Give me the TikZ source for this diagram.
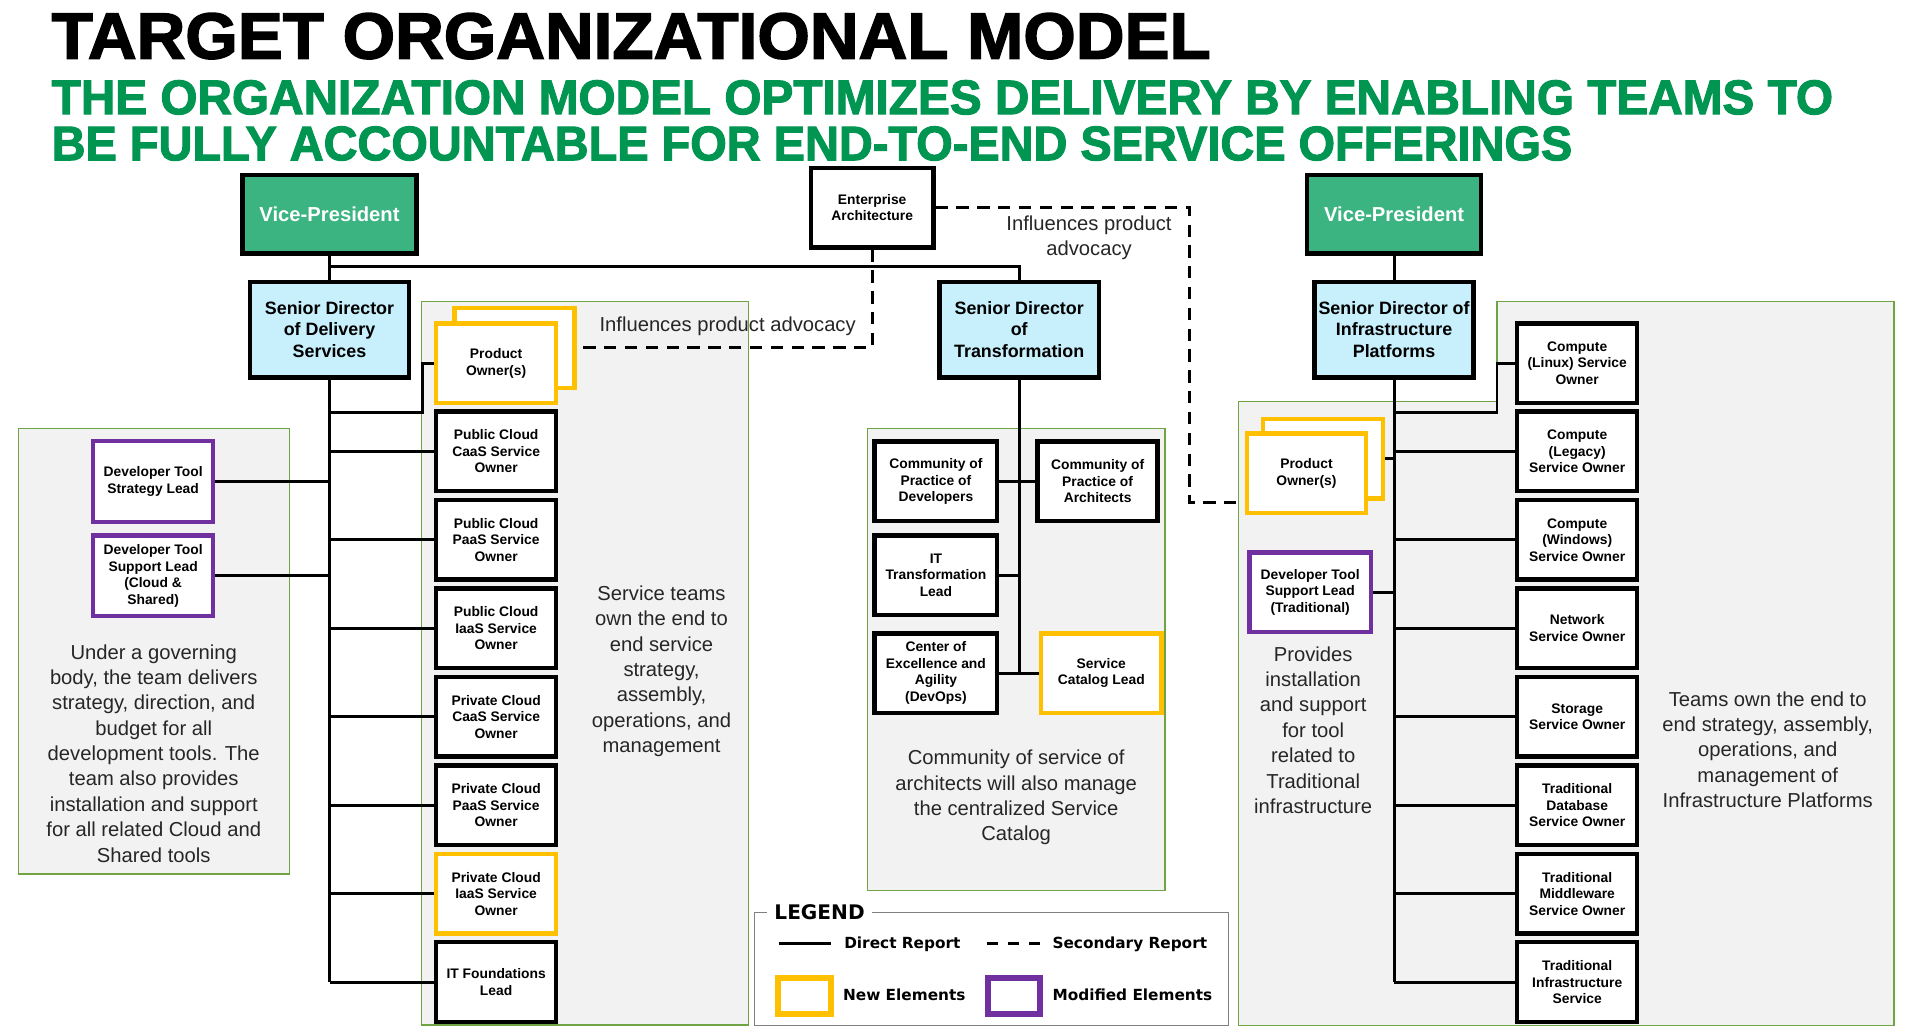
\documentclass[tikz,border=0pt]{standalone}
\usepackage{fontspec}
\setmainfont{Liberation Sans}
\newfontfamily\dvfont{DejaVu Sans}
\newfontfamily\heavyfont{Liberation Sans}[BoldFeatures={FakeBold=2.2}]
\usepackage{graphicx}
\definecolor{vpgreen}{RGB}{59,180,130}
\definecolor{sdblue}{RGB}{199,239,252}
\definecolor{subgreen}{RGB}{0,150,82}
\definecolor{ylw}{RGB}{255,192,0}
\definecolor{prp}{RGB}{112,48,160}
\definecolor{panelgray}{RGB}{242,242,242}
\definecolor{panelgreen}{RGB}{112,163,68}
\definecolor{leggray}{RGB}{128,128,128}
\definecolor{txtgray}{RGB}{38,38,38}
\tikzset{
  sbox/.style={draw=black, line width=3.6pt, fill=white, minimum width=98pt, minimum height=65pt,
    inner sep=1pt, align=center, font=\fontsize{11.3}{13.5}\selectfont\bfseries},
  ybox/.style={sbox, draw=ylw},
  pbox/.style={sbox, draw=prp},
  vpbox/.style={draw=black, line width=3.6pt, fill=vpgreen, minimum width=142pt, minimum height=64pt,
    text=white, font=\fontsize{16.5}{20}\selectfont\bfseries},
  sdbox/.style={draw=black, line width=3.6pt, fill=sdblue, minimum width=130pt, minimum height=78pt,
    inner sep=1pt, align=center, font=\fontsize{14.6}{17.4}\selectfont\bfseries},
  desc/.style={align=center, text=txtgray, font=\fontsize{16.5}{20.7}\selectfont},
  panel/.style={fill=panelgray, draw=panelgreen, line width=1.1pt},
  conn/.style={line width=2.4pt, draw=black},
  dconn/.style={line width=2.6pt, draw=black, dash pattern=on 10pt off 7pt},
  legtxt/.style={anchor=base west, inner sep=0pt, font=\dvfont\fontsize{12.5}{15}\selectfont\bfseries},
}
\begin{document}
\begin{tikzpicture}[x=1pt,y=-1pt]
\path[use as bounding box, fill=white] (0,0) rectangle (1560,845);

% titles
\node[anchor=north west, inner sep=0pt] (title) at (42,10.4)
  {\resizebox{946pt}{37.2pt}{\heavyfont\bfseries TARGET ORGANIZATIONAL MODEL}};
\node[anchor=north west, inner sep=0pt, text=subgreen] (sub1) at (42,65.3)
  {\resizebox{1454pt}{27.7pt}{\heavyfont\bfseries THE ORGANIZATION MODEL OPTIMIZES DELIVERY BY ENABLING TEAMS TO}};
\node[anchor=north west, inner sep=0pt, text=subgreen] (sub2) at (42,103)
  {\resizebox{1241pt}{27.6pt}{\heavyfont\bfseries BE FULLY ACCOUNTABLE FOR END-TO-END SERVICE OFFERINGS}};

% panels
\path[panel] (15,350) rectangle (236.5,713.5);
\path[panel] (344,246) rectangle (611,836.7);
\path[panel] (708,350) rectangle (951,727);
\path[panel] (1011,328) -- (1222,328) -- (1222,246) -- (1546,246) -- (1546,837) -- (1011,837) -- cycle;

% top level
\node[vpbox] (vpl) at (269,175) {Vice-President};
\node[sdbox] (sdl) at (269,269) {Senior Director\\of Delivery\\Services};
\node[sbox, minimum width=100pt] (ea) at (712,169.5) {Enterprise\\Architecture};
\node[sdbox] (sdt) at (832,269) {Senior Director\\of\\Transformation};
\node[vpbox] (vpr) at (1138,175) {Vice-President};
\node[sdbox] (sdi) at (1138,269) {Senior Director of\\Infrastructure\\Platforms};

% left column
\node[ybox] (po1b) at (420,284) {};
\node[ybox] (po1f) at (405,296.5) {Product\\Owner(s)};
\node[sbox] (pcc) at (405,368.5) {Public Cloud\\CaaS Service\\Owner};
\node[sbox] (pcp) at (405,440.7) {Public Cloud\\PaaS Service\\Owner};
\node[sbox] (pci) at (405,512.9) {Public Cloud\\IaaS Service\\Owner};
\node[sbox] (vcc) at (405,585.1) {Private Cloud\\CaaS Service\\Owner};
\node[sbox] (vcp) at (405,657.3) {Private Cloud\\PaaS Service\\Owner};
\node[ybox] (vci) at (405,729.5) {Private Cloud\\IaaS Service\\Owner};
\node[sbox] (itf) at (405,801.7) {IT Foundations\\Lead};

% far left
\node[pbox, minimum height=66pt] (dts) at (125,393) {Developer Tool\\Strategy Lead};
\node[pbox, minimum height=66pt] (dtc) at (125,470) {Developer Tool\\Support Lead\\(Cloud \&\\Shared)};

% middle
\node[sbox, minimum width=100pt] (cpd) at (764,393) {Community of\\Practice of\\Developers};
\node[sbox] (cpa) at (896,393) {Community of\\Practice of\\Architects};
\node[sbox, minimum width=100pt] (itl) at (764,469.5) {IT\\Transformation\\Lead};
\node[sbox, minimum width=100pt] (coe) at (764,549.5) {Center of\\Excellence and\\Agility\\(DevOps)};
\node[ybox] (scl) at (899,549.5) {Service\\Catalog Lead};

% right
\node[ybox] (po2b) at (1080,374.5) {};
\node[ybox, minimum width=97pt] (po2f) at (1066.5,386.5) {Product\\Owner(s)};
\node[pbox, minimum width=99pt] (dtt) at (1069.5,483.5) {Developer Tool\\Support Lead\\(Traditional)};
\node[sbox] (cl) at (1287.5,296.5) {Compute\\(Linux) Service\\Owner};
\node[sbox] (cg) at (1287.5,368.5) {Compute\\(Legacy)\\Service Owner};
\node[sbox] (cw) at (1287.5,440.7) {Compute\\(Windows)\\Service Owner};
\node[sbox] (nw) at (1287.5,512.9) {Network\\Service Owner};
\node[sbox] (st) at (1287.5,585.1) {Storage\\Service Owner};
\node[sbox] (td) at (1287.5,657.3) {Traditional\\Database\\Service Owner};
\node[sbox] (tm) at (1287.5,729.5) {Traditional\\Middleware\\Service Owner};
\node[sbox] (ti) at (1287.5,801.7) {Traditional\\Infrastructure\\Service};

% connectors: top
\coordinate (hbar) at (269,217.7);
\draw[conn] (vpl.south) -- (sdl.north);
\draw[conn] (hbar) -| (sdt.north);
\draw[conn] (vpr.south) -- (sdi.north);

% left trunk
\coordinate (poelbow) at (345,337);
\draw[conn] (sdl.south) -- (sdl.south |- itf.west);
\draw[conn] (sdl.south |- poelbow) -- (poelbow) |- (po1f.west);
\foreach \n in {pcc,pcp,pci,vcc,vcp,vci,itf} \draw[conn] (sdl.south |- \n.west) -- (\n.west);
\foreach \n in {dts,dtc} \draw[conn] (\n.east) -- (\n.east -| sdl.south);

% middle trunk
\draw[conn] (sdt.south) -- (sdt.south |- coe.east);
\draw[conn] (cpd.east) -- (cpa.west);
\draw[conn] (itl.east) -- (itl.east -| sdt.south);
\draw[conn] (coe.east) -- (scl.west);

% right trunk
\coordinate (linelbow) at (1222,337);
\draw[conn] (sdi.south) -- (sdi.south |- ti.west);
\draw[conn] (sdi.south |- linelbow) -- (linelbow) |- (cl.west);
\foreach \n in {cg,cw,nw,st,td,tm,ti} \draw[conn] (sdi.south |- \n.west) -- (\n.west);
\draw[conn] (po2b.east) -- (po2b.east -| sdi.south);
\draw[conn] (dtt.east) -- (dtt.east -| sdi.south);

% dashed secondary reports
\coordinate (eadrop) at (971,410);
\draw[dconn] (ea.south) -- (ea.south |- po1b.east) -- (po1b.east);
\draw[dconn] (ea.east) -- (ea.east -| eadrop) -- (eadrop) -- (po2f.west |- eadrop);

% texts
\node[desc] (inf1) at (594,266.7) {Influences product advocacy};
\node[desc, font=\fontsize{16.5}{21}\selectfont] (inf2) at (889,194) {Influences product\\advocacy};
\node[desc] (dl) at (125.5,615) {Under a governing\\body, the team delivers\\strategy, direction, and\\budget for all\\development tools. The\\team also provides\\installation and support\\for all related Cloud and\\Shared tools};
\node[desc] (dst) at (540,548) {Service teams\\own the end to\\end service\\strategy,\\assembly,\\operations, and\\management};
\node[desc] (dmid) at (829.5,651) {Community of service of\\architects will also manage\\the centralized Service\\Catalog};
\node[desc] (dprov) at (1072,596) {Provides\\installation\\and support\\for tool\\related to\\Traditional\\infrastructure};
\node[desc] (dteam) at (1443,612) {Teams own the end to\\end strategy, assembly,\\operations, and\\management of\\Infrastructure Platforms};

% legend
\draw[draw=leggray, line width=1.2pt] (616,745) rectangle (1003,837);
\node[anchor=west, fill=white, inner xsep=6pt, inner ysep=1pt, font=\dvfont\fontsize{16.4}{18}\selectfont\bfseries] (legt) at (626,745) {LEGEND};
\coordinate (ls1) at (636,770); \coordinate (ls2) at (678,770);
\draw[line width=2.6pt] (ls1) -- (ls2);
\node[legtxt] (ldr) at (689,774) {Direct Report};
\coordinate (ld1) at (806,770); \coordinate (ld2) at (849,770);
\draw[line width=2.6pt, dash pattern=on 9pt off 8pt] (ld1) -- (ld2);
\node[legtxt] (lsr) at (859,774) {Secondary Report};
\node[draw=ylw, line width=4.6pt, minimum width=42.9pt, minimum height=29.4pt, inner sep=0pt] (lnew) at (656.75,813) {};
\node[legtxt] (lne) at (688,817) {New Elements};
\node[draw=prp, line width=4.6pt, minimum width=42.9pt, minimum height=29.4pt, inner sep=0pt] (lmod) at (827.75,813) {};
\node[legtxt] (lme) at (859,817) {Modified Elements};
\end{tikzpicture}
\end{document}
